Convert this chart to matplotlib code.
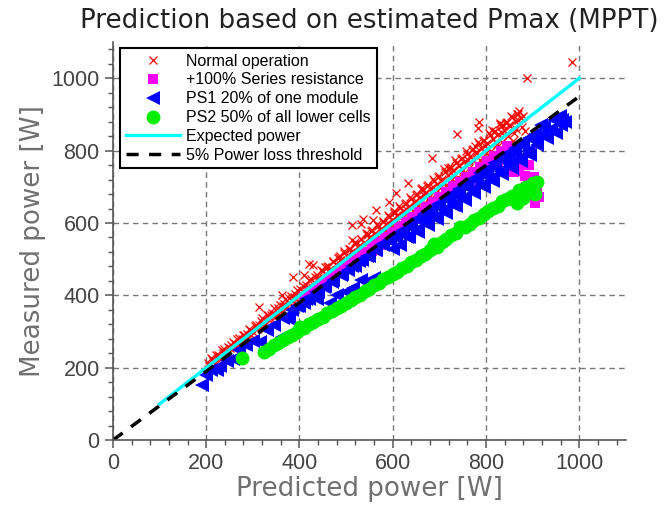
import numpy as np
import matplotlib
matplotlib.use('Agg')
import matplotlib.pyplot as plt
from matplotlib.ticker import MultipleLocator

# ---- data (W) ----
normalX = [203, 210, 215, 222, 228, 235, 240, 246, 252, 258, 263, 270, 276, 281, 288, 294,
           300, 305, 311, 314, 318, 324, 330, 336, 342, 348, 353, 360, 362, 366, 372, 378,
           384, 387, 390, 396, 401, 407, 409, 413, 419, 420, 425, 430, 432, 438, 444, 450,
           456, 461, 467, 473, 479, 485, 490, 496, 502, 508, 513, 514, 513, 520, 526, 531,
           532, 536, 538, 544, 550, 556, 558, 562, 565, 568, 574, 580, 586, 591, 592, 598,
           604, 608, 610, 616, 622, 628, 632, 634, 640, 646, 652, 658, 664, 670, 676, 682,
           685, 688, 694, 700, 706, 712, 718, 724, 730, 736, 738, 742, 748, 754, 760, 766,
           772, 778, 783, 785, 784, 790, 796, 802, 808, 813, 814, 820, 826, 831, 832, 838,
           844, 850, 856, 862, 868, 871, 875, 887, 984,
           232, 268, 297, 327, 356, 383, 416, 447, 476, 505, 535, 566, 597, 627, 655, 683,
           711, 741, 770, 799, 829, 857, 883, 455, 487, 546, 603, 661, 719, 777, 836,
           206, 218, 231, 244, 257, 271, 284, 297, 309, 322, 335, 347, 359, 371, 392, 405,
           418, 429, 442, 453, 466, 478, 489, 501, 512, 523, 534, 547, 559, 571, 583, 595,
           606, 619, 631, 643, 655, 667, 679, 691, 703, 715, 727, 739, 751, 763, 775, 787,
           799, 811, 823, 835, 847, 859, 865, 878,
           212, 226, 239, 253, 266, 279, 292, 306, 320, 333, 346, 358, 370, 382, 395, 408,
           421, 434, 446, 459, 471, 483, 495, 507, 519, 531, 543, 554, 567, 579, 590, 602,
           614, 626, 638, 650, 662, 674, 686, 698, 710, 722, 734, 746, 758, 770, 782, 794,
           806, 818, 830, 842, 854, 866,
           236, 262, 288, 313, 339, 364, 389, 414, 439, 463, 488, 511, 529, 552, 572, 589,
           611, 629, 649, 666, 687, 704, 724, 743, 761, 780, 797, 816, 834, 852, 869, 880]
normalY = [212, 226, 219, 236, 232, 248, 243, 258, 255, 270, 262, 282, 279, 291, 286, 305,
           299, 316, 309, 368, 330, 322, 345, 338, 352, 349, 366, 358, 400, 377, 371, 392,
           386, 451, 404, 398, 418, 411, 456, 430, 423, 488, 444, 483, 437, 455, 449, 468,
           460, 480, 473, 493, 486, 505, 498, 517, 509, 528, 552, 522, 594, 541, 534, 598,
           555, 612, 546, 567, 559, 580, 608, 572, 635, 592, 584, 605, 597, 657, 617, 609,
           630, 684, 622, 642, 634, 655, 711, 647, 667, 659, 680, 672, 692, 684, 705, 696,
           780, 717, 709, 730, 722, 742, 734, 755, 747, 767, 845, 759, 780, 771, 792, 784,
           805, 796, 863, 879, 817, 808, 830, 821, 842, 856, 833, 855, 846, 875, 867, 858,
           880, 870, 892, 882, 900, 909, 890, 1000, 1044,
           225, 262, 290, 318, 345, 373, 401, 432, 461, 488, 515, 546, 575, 604, 633, 660,
           687, 716, 743, 772, 800, 828, 855, 478, 510, 571, 632, 693, 752, 812, 872,
           204, 214, 229, 240, 254, 265, 281, 290, 306, 316, 332, 340, 356, 364, 389, 397,
           414, 420, 438, 444, 462, 469, 485, 492, 508, 514, 530, 537, 555, 561, 579, 585,
           602, 609, 627, 632, 651, 656, 675, 680, 699, 704, 722, 728, 746, 751, 770, 775,
           794, 799, 818, 824, 841, 848, 861, 866,
           224, 236, 252, 263, 280, 291, 308, 319, 337, 347, 365, 373, 390, 398, 416, 425,
           443, 452, 470, 479, 496, 504, 522, 529, 547, 555, 572, 579, 598, 604, 622, 628,
           648, 653, 673, 677, 697, 702, 722, 727, 748, 752, 773, 777, 798, 802, 823, 827,
           848, 851, 873, 876, 897, 900,
           240, 266, 293, 318, 345, 370, 396, 421, 447, 471, 497, 520, 538, 562, 582, 599,
           622, 640, 661, 678, 700, 717, 737, 757, 775, 794, 812, 831, 849, 868, 885, 896]

seriesX = [420, 430, 440, 448, 456, 466, 475, 485, 495, 505, 515, 525, 535, 545, 555, 565,
           575, 585, 595, 605, 615, 625, 635, 645, 655, 665, 675, 685, 695, 705, 715, 725,
           735, 745, 755, 765, 775, 785, 795, 805, 815, 825, 835, 842, 850, 860, 870, 880,
           885, 890, 896, 898, 902, 906, 910, 913,
           410, 425, 438, 452, 468, 482, 497, 512, 527, 541, 556, 570, 584, 598, 613, 628,
           642, 657, 671, 686, 700, 715, 730, 744, 758, 773, 788, 802, 817, 832, 846, 860,
           872, 884, 893]
seriesY = [400, 405, 418, 425, 430, 447, 450, 462, 468, 480, 485, 500, 505, 517, 522, 536,
           540, 553, 560, 572, 578, 592, 598, 610, 615, 630, 636, 648, 655, 668, 672, 685,
           690, 702, 706, 720, 725, 740, 744, 756, 760, 772, 778, 782, 760, 740, 745, 780,
           700, 720, 793, 680, 727, 655, 690, 671,
           395, 408, 421, 434, 450, 463, 477, 492, 506, 520, 534, 547, 561, 575, 589, 603,
           616, 631, 644, 658, 672, 686, 701, 714, 728, 742, 756, 770, 784, 798, 812, 802,
           760, 730, 760]

ps1X = [190, 200, 210, 223, 230, 245, 258, 270, 285, 300, 316, 330, 345, 362, 365, 373,
        377, 385, 400, 410, 420, 437, 440, 455, 466, 470, 480, 490, 500, 505, 515, 520,
        531, 535, 548, 550, 560, 565, 580, 595, 605, 620, 630, 640, 650, 660, 670, 680,
        690, 700, 710, 720, 730, 740, 750, 760, 770, 780, 790, 800, 810, 820, 830, 840,
        850, 860, 870, 880, 890, 900, 910, 917, 920, 930, 940, 950, 960, 964, 970,
        395, 415, 435, 452, 472, 492, 512, 528, 545, 562, 578, 592, 608, 622, 638, 652,
        668, 682, 698, 712, 728, 742, 758, 772, 788, 802, 818, 832, 848, 862, 878, 892,
        905, 925, 945, 958,
        600, 615, 635, 655, 675, 695, 715, 735, 755, 775, 795, 815, 835, 855, 875, 895]
ps1Y = [152, 180, 195, 193, 205, 220, 225, 248, 262, 275, 272, 305, 318, 285, 338, 341,
        336, 360, 372, 380, 390, 391, 410, 425, 378, 438, 400, 455, 410, 470, 420, 482,
        442, 497, 437, 510, 448, 525, 538, 550, 562, 572, 560, 590, 580, 610, 600, 628,
        618, 645, 635, 663, 650, 682, 670, 700, 690, 720, 705, 738, 725, 755, 745, 775,
        762, 795, 780, 812, 800, 830, 815, 870, 845, 835, 860, 850, 872, 884, 878,
        372, 390, 408, 424, 442, 460, 480, 494, 510, 525, 541, 553, 570, 582, 597, 610,
        625, 638, 653, 666, 681, 694, 709, 722, 737, 750, 765, 778, 793, 806, 821, 834,
        846, 865, 884, 896,
        527, 540, 560, 575, 594, 612, 628, 647, 664, 682, 699, 716, 735, 752, 770, 788]

ps2X = [276, 323, 335, 345, 355, 365, 375, 385, 395, 402, 410, 420, 430, 440, 450, 460,
        470, 480, 490, 500, 510, 520, 530, 540, 550, 560, 570, 580, 590, 600, 610, 620,
        630, 640, 650, 660, 670, 680, 688, 695, 705, 715, 725, 735, 745, 755, 765, 775,
        785, 795, 805, 815, 825, 835, 845, 855, 867, 870, 880, 885, 895, 900, 905, 910]
ps2Y = [228, 244, 252, 262, 268, 276, 284, 290, 300, 313, 310, 320, 326, 335, 340, 350,
        356, 365, 372, 380, 388, 396, 402, 412, 418, 428, 434, 444, 450, 460, 466, 476,
        482, 492, 498, 508, 515, 525, 543, 535, 548, 555, 566, 572, 589, 590, 598, 608,
        614, 626, 632, 642, 648, 660, 665, 676, 654, 690, 670, 700, 690, 710, 680, 714]

expectedX = [100, 1000]
expectedY = [100, 1000]
thresholdX = [0, 1000]
thresholdY = [0, 950]

labels = ['Normal operation', '+100% Series resistance', 'PS1 20% of one module',
          'PS2 50% of all lower cells', 'Expected power', '5% Power loss threshold']

plt.rcParams['font.family'] = ['Liberation Sans', 'DejaVu Sans']

fig = plt.figure(figsize=(6.68, 5.13), dpi=100)
ax = fig.add_axes([0.169, 0.142, 0.768, 0.776])

ax.plot(normalX, normalY, 'x', color='red', ms=6, mew=0.9, label=labels[0])
ax.plot(seriesX, seriesY, 's', color='magenta', ms=6.5, mew=0, label=labels[1])
ax.plot(ps1X, ps1Y, '<', color='blue', ms=9.5, mew=0, label=labels[2])
ax.plot(ps2X, ps2Y, 'o', color='#00ee00', ms=10, mew=0, label=labels[3])
ax.plot(expectedX, expectedY, '-', color='cyan', lw=2.4, label=labels[4])
ax.plot(thresholdX, thresholdY, '--', color='black', lw=2.5, dashes=(3.5, 3), label=labels[5])

ax.set_xlim(0, 1100)
ax.set_ylim(0, 1100)
ax.xaxis.set_major_locator(MultipleLocator(200))
ax.yaxis.set_major_locator(MultipleLocator(200))
ax.xaxis.set_minor_locator(MultipleLocator(40))
ax.yaxis.set_minor_locator(MultipleLocator(40))
ax.grid(True, which='major', color='#777777', linestyle=(0, (4, 3)), lw=1)
ax.set_axisbelow(True)

for s in ['top', 'right']:
    ax.spines[s].set_visible(False)
for s in ['left', 'bottom']:
    ax.spines[s].set_color('#555555')
    ax.spines[s].set_linewidth(1.2)
ax.tick_params(which='major', direction='out', length=6, width=1.1, color='#555555',
               labelsize=15.5, labelcolor='#444444')
ax.tick_params(which='minor', direction='out', length=3.5, width=1, color='#555555')

ax.set_xlabel('Predicted power [W]', fontsize=18.8, color='#707070',
              family='DejaVu Sans', labelpad=1)
ax.set_ylabel('Measured power [W]', fontsize=18.8, color='#707070',
              family='DejaVu Sans', labelpad=4)
ax.set_title('Prediction based on estimated Pmax (MPPT)', fontsize=18.8, color='#222222',
             family='DejaVu Sans', pad=10)

leg = ax.legend(loc='upper left', bbox_to_anchor=(0.014, 0.985), borderaxespad=0,
                fontsize=11.5, numpoints=1, handlelength=3.4, labelspacing=0.24,
                fancybox=False, framealpha=1, edgecolor='black', borderpad=0.35,
                handletextpad=0.4)
leg.get_frame().set_linewidth(1.5)

plt.savefig('out.png', dpi=100)
